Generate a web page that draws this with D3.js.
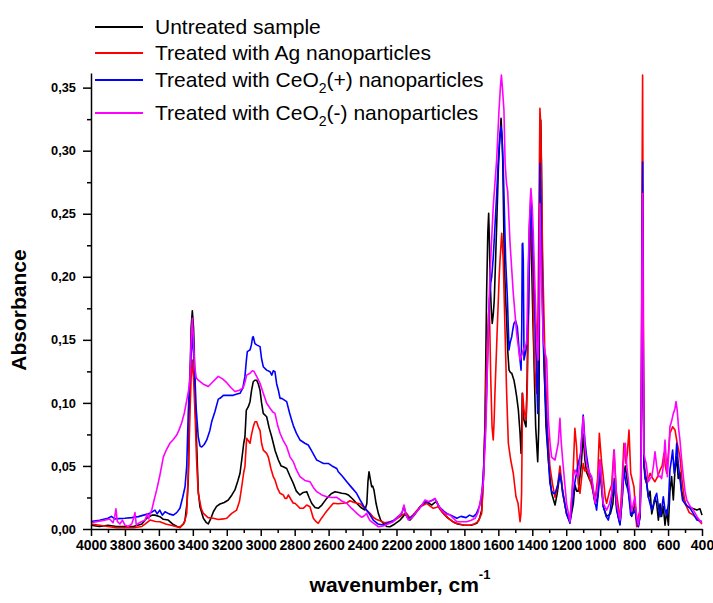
<!DOCTYPE html>
<html>
<head>
<meta charset="utf-8">
<script src="https://cdn.jsdelivr.net/npm/d3@7"></script>
<style>
  body { margin: 0; background: #ffffff; }
  svg { display: block; }
  .tick text { font-family: "Liberation Sans", Arial, sans-serif; font-weight: bold; }
</style>
</head>
<body>
<svg id="chart" width="713" height="603"></svg>
<script>
// FTIR absorbance spectra: wavenumber (cm-1) and absorbance for each sample.
const untreatedWn = [4000,3950,3900,3850,3800,3750,3700,3672,3640,3623,3594,3574,3545,3515,3490,3476,3455,3446,3435,3427,3417,3410,3403,3396,3392,3385,3377,3368,3358,3338,3320,3309,3295,3279,3260,3240,3215,3191,3170,3152,3135,3122,3112,3100,3093,3085,3073,3063,3054,3044,3035,3024,3014,3004,2995,2985,2965,2950,2935,2915,2896,2880,2867,2847,2828,2808,2790,2769,2749,2729,2715,2700,2680,2661,2640,2611,2585,2562,2540,2523,2500,2484,2460,2435,2410,2386,2375,2368,2362,2355,2346,2340,2333,2320,2307,2293,2278,2258,2238,2210,2179,2160,2150,2135,2120,2090,2061,2040,2022,2005,1993,1975,1963,1945,1924,1900,1870,1840,1800,1760,1727,1712,1698,1688,1679,1669,1662,1657,1652,1649,1642,1636,1630,1624,1617,1610,1600,1594,1584,1578,1574,1565,1558,1551,1544,1537,1528,1521,1508,1500,1492,1482,1472,1466,1462,1459,1454,1449,1437,1430,1425,1418,1413,1404,1397,1390,1380,1368,1362,1360,1355,1350,1346,1343,1337,1331,1319,1305,1295,1286,1266,1253,1237,1228,1221,1198,1178,1165,1158,1149,1138,1129,1112,1100,1090,1080,1065,1050,1030,1015,1001,990,982,962,940,925,917,903,883,870,863,852,842,834,814,805,795,785,775,765,759,754,750,746,742,735,729,716,706,696,686,677,667,657,647,638,628,618,608,598,589,579,569,560,549,540,530,520,510,490,470,450,430,412,400];
const untreatedAbs = [0.003,0.002,0.003,0.002,0.002,0.002,0.004,0.0085,0.011,0.011,0.0098,0.0077,0.0071,0.0035,0.0018,0.0013,0.004,0.0071,0.02,0.039,0.118,0.160,0.173,0.160,0.1446,0.095,0.065,0.030,0.0177,0.0085,0.005,0.004,0.008,0.0137,0.018,0.0198,0.021,0.023,0.027,0.031,0.038,0.0442,0.0547,0.068,0.073,0.094,0.097,0.101,0.110,0.1168,0.118,0.118,0.115,0.110,0.100,0.0917,0.089,0.080,0.073,0.062,0.0547,0.050,0.0494,0.048,0.042,0.0362,0.030,0.027,0.029,0.0296,0.025,0.0204,0.017,0.0164,0.019,0.0243,0.028,0.0296,0.029,0.0283,0.028,0.027,0.024,0.0204,0.017,0.0151,0.020,0.038,0.0454,0.040,0.0335,0.034,0.031,0.020,0.0124,0.007,0.0045,0.002,0.0018,0.004,0.0071,0.010,0.012,0.009,0.0071,0.012,0.0177,0.020,0.0217,0.020,0.019,0.021,0.0217,0.016,0.0124,0.009,0.006,0.004,0.003,0.003,0.0045,0.008,0.015,0.04,0.081,0.187,0.235,0.2504,0.225,0.200,0.175,0.163,0.170,0.1816,0.210,0.2397,0.285,0.303,0.3257,0.31,0.2926,0.2133,0.185,0.1657,0.14,0.126,0.124,0.1235,0.118,0.112,0.105,0.0944,0.0759,0.060,0.08,0.1076,0.095,0.0864,0.081,0.12,0.187,0.235,0.253,0.2133,0.17,0.134,0.081,0.0534,0.08,0.1076,0.261,0.3243,0.29,0.2397,0.18,0.134,0.081,0.0547,0.04,0.0283,0.019,0.0283,0.0442,0.038,0.0283,0.0124,0.0058,0.015,0.0204,0.035,0.03,0.030,0.05,0.075,0.055,0.045,0.04,0.036,0.020,0.025,0.045,0.03,0.018,0.010,0.012,0.02,0.040,0.015,0.004,0.025,0.04,0.05,0.04,0.03,0.01,0.015,0.02,0.008,0.002,0.01,0.04,0.15,0.25,0.12,0.05,0.045,0.04,0.025,0.03,0.012,0.018,0.025,0.02,0.007,0.02,0.01,0.018,0.003,0.015,0.003,0.03,0.0415,0.023,0.045,0.0573,0.04,0.045,0.03,0.025,0.018,0.017,0.016,0.015,0.016,0.011];

const agWn = [4000,3950,3900,3850,3800,3750,3700,3680,3652,3620,3594,3560,3535,3500,3476,3450,3436,3425,3417,3410,3403,3396,3387,3378,3368,3350,3338,3310,3279,3250,3220,3200,3171,3142,3125,3112,3100,3093,3083,3073,3063,3054,3044,3034,3024,3014,3004,2995,2985,2965,2955,2940,2926,2916,2900,2886,2867,2857,2847,2837,2820,2808,2798,2780,2769,2749,2729,2710,2690,2675,2661,2645,2621,2600,2572,2545,2513,2490,2474,2450,2415,2390,2376,2356,2337,2317,2297,2270,2238,2210,2179,2150,2140,2120,2090,2061,2040,2022,2000,1983,1968,1953,1935,1914,1890,1860,1830,1800,1770,1740,1718,1698,1688,1679,1672,1665,1658,1653,1649,1645,1637,1630,1625,1620,1606,1595,1590,1580,1576,1571,1561,1551,1541,1527,1512,1496,1484,1477,1472,1467,1463,1457,1449,1437,1430,1423,1415,1409,1398,1388,1380,1374,1369,1365,1360,1355,1350,1347,1339,1325,1311,1296,1280,1266,1250,1237,1221,1198,1178,1165,1158,1149,1139,1129,1119,1100,1090,1075,1062,1044,1030,1015,1005,991,982,970,962,945,932,919,905,895,883,870,860,848,840,830,820,801,785,775,765,758,754,750,746,742,735,726,715,706,690,677,660,647,635,624,616,608,598,589,573,559,546,530,515,500,475,451,420,400];
const agAbs = [0.004,0.003,0.002,0.001,0.001,0.001,0.002,0.004,0.0071,0.006,0.0058,0.004,0.0032,0.002,0.0013,0.005,0.0124,0.05,0.0917,0.12,0.134,0.12,0.0917,0.055,0.0283,0.016,0.0124,0.009,0.0085,0.0075,0.008,0.0085,0.0124,0.015,0.022,0.0335,0.045,0.0494,0.0719,0.070,0.068,0.075,0.081,0.085,0.085,0.081,0.078,0.068,0.0626,0.060,0.057,0.048,0.0415,0.0389,0.032,0.0283,0.027,0.0243,0.0243,0.027,0.023,0.0204,0.0204,0.018,0.0164,0.0164,0.019,0.0177,0.0085,0.006,0.0045,0.008,0.0124,0.016,0.0204,0.020,0.0204,0.021,0.0224,0.021,0.020,0.017,0.0151,0.0125,0.0093,0.0075,0.0066,0.005,0.0058,0.007,0.0098,0.0124,0.0124,0.0085,0.013,0.0177,0.019,0.0204,0.018,0.0164,0.017,0.0177,0.014,0.011,0.008,0.005,0.004,0.003,0.003,0.004,0.006,0.0124,0.04,0.081,0.12,0.1446,0.17,0.176,0.15,0.121,0.081,0.0706,0.085,0.1076,0.160,0.200,0.2133,0.2345,0.225,0.2133,0.160,0.1076,0.068,0.0547,0.0442,0.0256,0.0204,0.012,0.0058,0.012,0.0283,0.1076,0.0944,0.0864,0.11,0.160,0.23,0.261,0.2133,0.134,0.115,0.1076,0.14,0.187,0.26,0.3336,0.32,0.2926,0.2133,0.134,0.081,0.0494,0.035,0.025,0.035,0.05,0.03,0.012,0.006,0.03,0.05,0.0798,0.065,0.0362,0.0283,0.052,0.046,0.047,0.04,0.031,0.023,0.04,0.0759,0.052,0.0415,0.025,0.0204,0.03,0.035,0.0626,0.03,0.02,0.0071,0.04,0.068,0.052,0.06,0.0785,0.0442,0.0335,0.0018,0.01,0.015,0.08,0.25,0.36,0.2,0.06,0.04,0.0362,0.04,0.0442,0.04,0.0375,0.042,0.0468,0.05,0.060,0.05,0.0442,0.06,0.0759,0.081,0.0785,0.068,0.0573,0.035,0.0204,0.013,0.011,0.007,0.004];

const cePlusWn = [4000,3950,3900,3880,3860,3800,3760,3721,3690,3652,3635,3623,3610,3595,3580,3564,3540,3515,3495,3476,3460,3446,3436,3427,3420,3413,3403,3396,3387,3380,3368,3358,3348,3333,3318,3300,3289,3270,3250,3240,3220,3190,3162,3140,3122,3105,3093,3085,3079,3063,3055,3048,3044,3034,3024,3004,2995,2985,2965,2945,2935,2926,2916,2906,2896,2886,2876,2847,2830,2818,2808,2790,2769,2740,2720,2700,2670,2651,2630,2602,2580,2552,2543,2520,2493,2465,2435,2410,2386,2360,2337,2310,2278,2250,2219,2190,2170,2156,2145,2130,2100,2081,2055,2032,2015,2003,1985,1973,1955,1944,1920,1900,1880,1845,1820,1790,1770,1747,1730,1712,1700,1689,1679,1669,1660,1653,1645,1639,1630,1620,1610,1600,1592,1584,1578,1571,1564,1557,1547,1537,1530,1521,1515,1508,1498,1488,1476,1466,1462,1459,1456,1453,1450,1449,1443,1437,1430,1423,1416,1409,1402,1394,1387,1380,1374,1368,1364,1360,1355,1350,1345,1335,1325,1315,1305,1296,1286,1276,1266,1250,1237,1221,1198,1178,1165,1149,1129,1115,1100,1090,1080,1065,1050,1035,1021,1010,1001,990,982,965,952,940,932,917,905,895,883,870,860,848,834,820,808,795,785,775,765,759,754,750,746,742,735,726,715,706,696,685,677,667,657,647,638,628,618,608,598,589,580,573,564,555,549,540,530,515,500,470,450,430,400];
const cePlusAbs = [0.006,0.007,0.0085,0.010,0.008,0.0085,0.009,0.0098,0.011,0.0124,0.014,0.015,0.012,0.015,0.011,0.0137,0.012,0.011,0.013,0.0164,0.025,0.0335,0.050,0.0917,0.115,0.131,0.155,0.140,0.118,0.095,0.073,0.066,0.065,0.067,0.0706,0.078,0.085,0.093,0.103,0.1036,0.106,0.106,0.106,0.107,0.1076,0.112,0.121,0.133,0.1406,0.142,0.146,0.152,0.1525,0.147,0.146,0.1446,0.135,0.1287,0.126,0.1247,0.122,0.1255,0.1247,0.115,0.110,0.1036,0.1036,0.101,0.092,0.0864,0.082,0.076,0.0706,0.068,0.0666,0.062,0.0547,0.0534,0.052,0.052,0.050,0.048,0.0454,0.042,0.0375,0.033,0.0283,0.022,0.0164,0.012,0.0071,0.004,0.0032,0.005,0.0065,0.010,0.012,0.018,0.012,0.008,0.011,0.0137,0.018,0.022,0.021,0.022,0.023,0.024,0.019,0.017,0.014,0.012,0.011,0.0085,0.010,0.009,0.011,0.0098,0.012,0.0177,0.025,0.0415,0.07,0.1076,0.15,0.1816,0.195,0.200,0.215,0.2397,0.265,0.2926,0.31,0.319,0.31,0.2873,0.25,0.2133,0.184,0.142,0.148,0.1525,0.158,0.163,0.165,0.160,0.139,0.126,0.16,0.226,0.2266,0.2133,0.16,0.134,0.138,0.142,0.155,0.171,0.22,0.266,0.24,0.2133,0.18,0.147,0.12,0.0917,0.13,0.187,0.29,0.26,0.2133,0.147,0.11,0.081,0.055,0.0362,0.03,0.0283,0.028,0.035,0.0442,0.03,0.012,0.0045,0.02,0.037,0.052,0.06,0.0904,0.07,0.058,0.045,0.04,0.025,0.015,0.03,0.0547,0.035,0.018,0.01,0.0071,0.015,0.025,0.037,0.02,0.01,0.0032,0.025,0.047,0.036,0.03,0.011,0.012,0.015,0.006,0.0018,0.01,0.052,0.2,0.291,0.15,0.05,0.04,0.036,0.025,0.02,0.015,0.02,0.025,0.0283,0.018,0.0098,0.015,0.0256,0.015,0.011,0.02,0.0468,0.055,0.0626,0.0442,0.055,0.068,0.052,0.04,0.023,0.02,0.0164,0.012,0.0071,0.006];

const ceMinusWn = [4000,3960,3920,3890,3870,3860,3853,3845,3830,3815,3800,3780,3760,3748,3741,3733,3715,3700,3682,3668,3660,3650,3642,3630,3613,3595,3574,3555,3535,3515,3495,3480,3466,3450,3436,3425,3417,3410,3403,3396,3390,3380,3368,3340,3309,3280,3250,3225,3200,3175,3152,3125,3103,3090,3083,3063,3050,3040,3024,3004,2985,2965,2945,2930,2916,2900,2886,2867,2847,2827,2808,2790,2769,2740,2710,2690,2670,2640,2611,2580,2552,2520,2493,2470,2454,2430,2405,2390,2376,2366,2356,2330,2307,2278,2250,2219,2180,2165,2156,2145,2130,2110,2081,2055,2032,2015,2003,1985,1973,1955,1934,1910,1885,1845,1786,1760,1737,1720,1708,1689,1673,1659,1649,1630,1610,1596,1588,1582,1576,1567,1560,1552,1545,1531,1512,1492,1472,1462,1453,1433,1425,1418,1408,1400,1394,1384,1374,1365,1360,1355,1350,1345,1335,1325,1315,1305,1295,1286,1266,1247,1237,1230,1221,1198,1178,1165,1158,1149,1129,1115,1100,1090,1080,1065,1050,1030,1015,1001,990,982,962,945,932,917,903,883,870,863,852,843,834,814,805,795,785,775,765,759,754,750,746,742,735,729,716,706,696,686,677,667,657,647,638,628,618,611,604,596,589,580,569,560,553,546,538,530,520,510,500,490,470,451,430,415,400];
const ceMinusAbs = [0.005,0.006,0.007,0.008,0.005,0.010,0.016,0.006,0.004,0.007,0.003,0.002,0.004,0.009,0.013,0.003,0.005,0.006,0.007,0.012,0.008,0.013,0.015,0.022,0.031,0.042,0.057,0.063,0.068,0.071,0.0745,0.079,0.084,0.092,0.102,0.11,0.118,0.150,0.167,0.150,0.13,0.12,0.118,0.115,0.113,0.117,0.121,0.119,0.116,0.112,0.109,0.110,0.112,0.118,0.122,0.1235,0.1255,0.125,0.121,0.1155,0.1076,0.0997,0.0957,0.093,0.0917,0.082,0.0759,0.070,0.0653,0.057,0.0534,0.047,0.0415,0.0385,0.0375,0.033,0.0296,0.027,0.0256,0.025,0.0251,0.022,0.0204,0.017,0.0151,0.012,0.0093,0.0105,0.0124,0.009,0.0066,0.004,0.0018,0.0024,0.004,0.0058,0.0111,0.014,0.019,0.012,0.0071,0.009,0.0137,0.018,0.023,0.022,0.0217,0.023,0.0243,0.019,0.0151,0.012,0.0111,0.0058,0.0058,0.007,0.0085,0.013,0.0204,0.0362,0.081,0.16,0.2028,0.2556,0.2926,0.3323,0.35,0.36,0.35,0.3323,0.29,0.274,0.268,0.2266,0.1869,0.155,0.134,0.138,0.142,0.147,0.2,0.2397,0.27,0.255,0.2345,0.19,0.150,0.134,0.18,0.258,0.22,0.19,0.150,0.14,0.134,0.0864,0.068,0.057,0.0547,0.068,0.0878,0.07,0.0547,0.0204,0.0058,0.03,0.0415,0.0468,0.0415,0.06,0.089,0.065,0.052,0.045,0.0415,0.0204,0.035,0.0547,0.035,0.0204,0.015,0.02,0.0283,0.0626,0.0204,0.0071,0.03,0.052,0.068,0.05,0.0389,0.0137,0.02,0.0256,0.01,0.0032,0.015,0.052,0.2,0.266,0.15,0.06,0.055,0.052,0.0375,0.04,0.0415,0.05,0.0613,0.05,0.0415,0.042,0.040,0.05,0.0706,0.055,0.0415,0.06,0.081,0.085,0.0917,0.095,0.101,0.094,0.08,0.0706,0.055,0.0415,0.03,0.023,0.018,0.015,0.01,0.007,0.005];

const seriesNames = ["Untreated sample", "Treated with Ag nanoparticles", "Treated with CeO2(+) nanoparticles", "Treated with CeO2(-) nanoparticles"];
const seriesColors = ["#000000", "#ff0000", "#0000ff", "#ff00ff"];

const xMajorTicks = [4000,3800,3600,3400,3200,3000,2800,2600,2400,2200,2000,1800,1600,1400,1200,1000,800,600,400];
const xMinorTicks = [3900,3700,3500,3300,3100,2900,2700,2500,2300,2100,1900,1700,1500,1300,1100,900,700,500];
const yMajorTicks = [0, 0.05, 0.10, 0.15, 0.20, 0.25, 0.30, 0.35];
const yMinorTicks = [0.025, 0.075, 0.125, 0.175, 0.225, 0.275, 0.325];

const svg = d3.select("#chart");
const FONT = "'Liberation Sans', Arial, sans-serif";

const x = d3.scaleLinear().domain([4000, 400]).range([91, 702]);
const y = d3.scaleLinear().domain([0, 0.3616]).range([529, 73]);

const commaLocale = d3.formatLocale({ decimal: ",", thousands: ".", grouping: [3], currency: ["", ""] });
const yFmt = commaLocale.format(".2f");

// Spectra, drawn in legend order so the last one sits on top
const series = [
  { wn: untreatedWn, abs: untreatedAbs },
  { wn: agWn, abs: agAbs },
  { wn: cePlusWn, abs: cePlusAbs },
  { wn: ceMinusWn, abs: ceMinusAbs }
];
const line = d3.line().x(d => x(d[0])).y(d => y(d[1]));
series.forEach((s, i) => {
  const pts = s.wn.map((w, k) => [w, s.abs[k]]);
  svg.append("path")
    .datum(pts)
    .attr("fill", "none")
    .attr("stroke", seriesColors[i])
    .attr("stroke-width", 1.6)
    .attr("stroke-linejoin", "round")
    .attr("d", line);
});

// X axis: labelled major ticks plus minor ticks
const xAxisG = svg.append("g").attr("transform", "translate(0,529)");
xAxisG.call(d3.axisBottom(x).tickValues(xMajorTicks).tickSize(7).tickSizeOuter(0).tickPadding(4).tickFormat(d3.format("d")));
xAxisG.append("g").call(d3.axisBottom(x).tickValues(xMinorTicks).tickSize(4).tickSizeOuter(0).tickFormat(""))
  .select(".domain").remove();
xAxisG.selectAll(".tick text").attr("font-size", "14px").attr("fill", "#000");

// Y axis
const yAxisG = svg.append("g").attr("transform", "translate(91,0)");
yAxisG.call(d3.axisLeft(y).tickValues(yMajorTicks).tickSize(8).tickSizeOuter(0).tickPadding(7).tickFormat(yFmt));
yAxisG.append("g").call(d3.axisLeft(y).tickValues(yMinorTicks).tickSize(4).tickSizeOuter(0).tickFormat(""))
  .select(".domain").remove();
yAxisG.selectAll(".tick text").attr("font-size", "12.8px").attr("fill", "#000");

svg.selectAll(".domain, .tick line").attr("stroke", "#000").attr("stroke-width", 1.5);

// Axis titles
svg.append("text")
  .attr("transform", "translate(26,310) rotate(-90)")
  .attr("text-anchor", "middle")
  .attr("font-family", FONT).attr("font-weight", "bold").attr("font-size", "21px")
  .text("Absorbance");

const xTitle = svg.append("text")
  .attr("x", 400).attr("y", 592)
  .attr("text-anchor", "middle")
  .attr("font-family", FONT).attr("font-weight", "bold").attr("font-size", "21px");
xTitle.append("tspan").text("wavenumber, cm");
xTitle.append("tspan").attr("font-size", "13px").attr("dy", -13).text("-1");

// Legend
const legendY = [27, 53, 80, 113];
const legend = svg.append("g");
seriesNames.forEach((name, i) => {
  legend.append("line")
    .attr("x1", 95).attr("x2", 143)
    .attr("y1", legendY[i]).attr("y2", legendY[i])
    .attr("stroke", seriesColors[i]).attr("stroke-width", 2);
  const t = legend.append("text")
    .attr("x", 155).attr("y", legendY[i] + 7)
    .attr("font-family", FONT).attr("font-size", "21px").attr("fill", "#000");
  const m = name.match(/^(.*CeO)2(.*)$/);
  if (m) {
    t.append("tspan").text(m[1]);
    t.append("tspan").attr("font-size", "14px").attr("dy", 6).text("2");
    t.append("tspan").attr("dy", -6).text(m[2]);
  } else {
    t.text(name);
  }
});
</script>
</body>
</html>
